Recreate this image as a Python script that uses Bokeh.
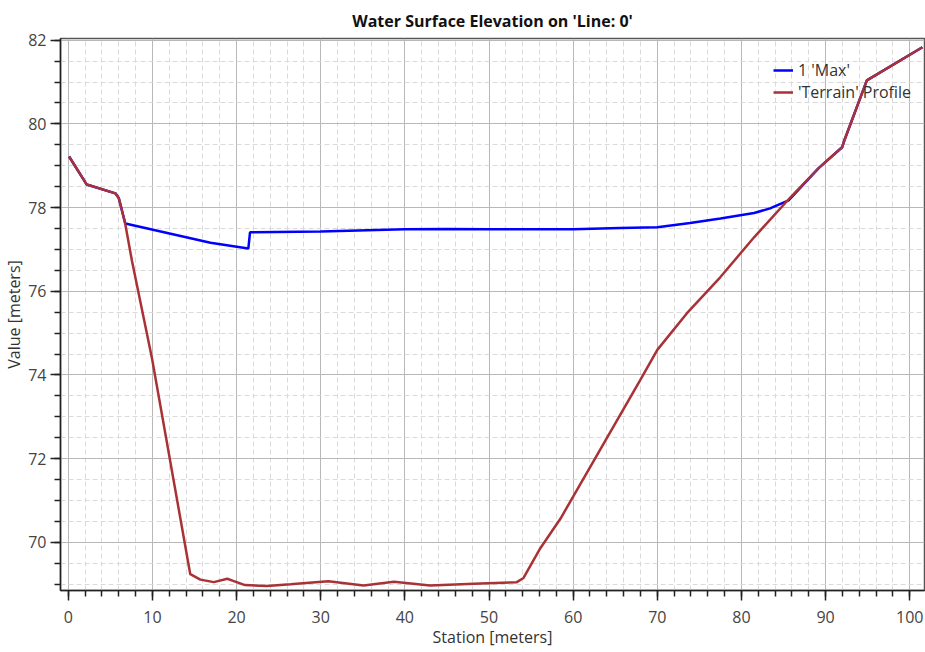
from bokeh.plotting import figure
from bokeh.models import Range1d, SingleIntervalTicker, Legend, LegendItem
from bokeh.embed import file_html
from bokeh.resources import INLINE

# ---- data ----
max_station = [0.1, 2.2, 5.6, 6.0, 6.78, 16.9, 21.4, 21.6, 30.0, 40.0, 45.0, 50.0, 60.0,
               65.6, 70.0, 73.9, 77.5, 81.5, 83.4, 85.6, 89.2, 91.96, 92.2, 94.9, 101.5]
max_value = [79.22, 78.55, 78.34, 78.23, 77.62, 77.16, 77.02, 77.41, 77.43, 77.48, 77.49,
             77.48, 77.48, 77.51, 77.53, 77.63, 77.74, 77.87, 77.98, 78.17, 78.95, 79.44,
             79.59, 81.04, 81.83]

terrain_station = [0.1, 2.2, 5.6, 6.0, 6.2, 6.78, 7.57, 9.95, 14.5, 15.7, 17.3, 18.9, 19.6,
                   21.0, 23.6, 26.4, 30.9, 35.1, 38.7, 43.0, 48.2, 53.3, 54.1, 56.1, 58.5,
                   68.0, 70.0, 73.5, 77.5, 81.5, 85.8, 89.2, 91.96, 92.2, 94.9, 101.5]
terrain_value = [79.22, 78.55, 78.34, 78.23, 78.08, 77.6, 76.73, 74.4, 69.24, 69.11, 69.05,
                 69.13, 69.08, 68.98, 68.96, 69.0, 69.07, 68.97, 69.06, 68.97, 69.01, 69.05,
                 69.15, 69.86, 70.57, 73.89, 74.6, 75.47, 76.34, 77.29, 78.24, 78.95, 79.44,
                 79.59, 81.04, 81.83]

title_text = "Water Surface Elevation on 'Line: 0'"
x_label = "Station [meters]"
y_label = "Value [meters]"
series_names = ["1 'Max'", "'Terrain' Profile"]

FONT = "Open Sans"

p = figure(width=925, height=650, output_backend="svg", toolbar_location=None,
           x_range=Range1d(-0.92, 101.75), y_range=Range1d(68.85, 82.04),
           min_border_left=60, min_border_right=1, min_border_top=38, min_border_bottom=59,
           title=title_text)

p.title.align = "center"
p.title.text_font = FONT
p.title.text_font_size = "16px"
p.title.text_font_style = "bold"
p.title.text_color = "#111111"
p.title.standoff = 14

p.background_fill_color = "white"
p.border_fill_color = "white"
p.outline_line_color = "#555555"
p.outline_line_width = 1.5

p.xaxis.ticker = SingleIntervalTicker(interval=10, num_minor_ticks=5)
p.yaxis.ticker = SingleIntervalTicker(interval=2, num_minor_ticks=4)

for ax in (p.xaxis, p.yaxis):
    ax.axis_line_color = "#222222"
    ax.axis_line_width = 1.5
    ax.major_tick_line_color = "#222222"
    ax.major_tick_line_width = 1.5
    ax.minor_tick_line_color = "#222222"
    ax.minor_tick_line_width = 1.5
    ax.major_tick_in = 0
    ax.major_tick_out = 10
    ax.minor_tick_in = 0
    ax.minor_tick_out = 6
    ax.major_label_text_font = FONT
    ax.major_label_text_font_size = "16px"
    ax.major_label_text_color = "#444444"
    ax.axis_label_text_font = FONT
    ax.axis_label_text_font_size = "16px"
    ax.axis_label_text_font_style = "normal"
    ax.axis_label_text_color = "#333333"

p.xaxis.axis_label = x_label
p.yaxis.axis_label = y_label
p.xaxis.major_label_standoff = 10
p.yaxis.major_label_standoff = 4
p.xaxis.axis_label_standoff = 0
p.yaxis.axis_label_standoff = 0

for g in (p.xgrid, p.ygrid):
    g.grid_line_color = "#b8b8b8"
    g.grid_line_width = 1
    g.minor_grid_line_color = "#dadada"
    g.minor_grid_line_width = 1
    g.minor_grid_line_dash = "5 3"

r_max = p.line(max_station, max_value, line_color="#0000ff", line_width=2.5)
r_ter = p.line(terrain_station, terrain_value, line_color="#a83236", line_width=2.5)

legend = Legend(items=[LegendItem(label=series_names[0], renderers=[r_max]),
                       LegendItem(label=series_names[1], renderers=[r_ter])],
                location=(713, 487))
legend.border_line_color = None
legend.background_fill_alpha = 0
legend.label_text_font = FONT
legend.label_text_font_size = "16px"
legend.label_text_color = "#333333"
legend.glyph_width = 20
legend.glyph_height = 22
legend.label_height = 22
legend.spacing = 0
legend.padding = 0
legend.margin = 0
legend.label_standoff = 5
p.add_layout(legend)

open("out.html", "w").write(file_html(p, INLINE))
